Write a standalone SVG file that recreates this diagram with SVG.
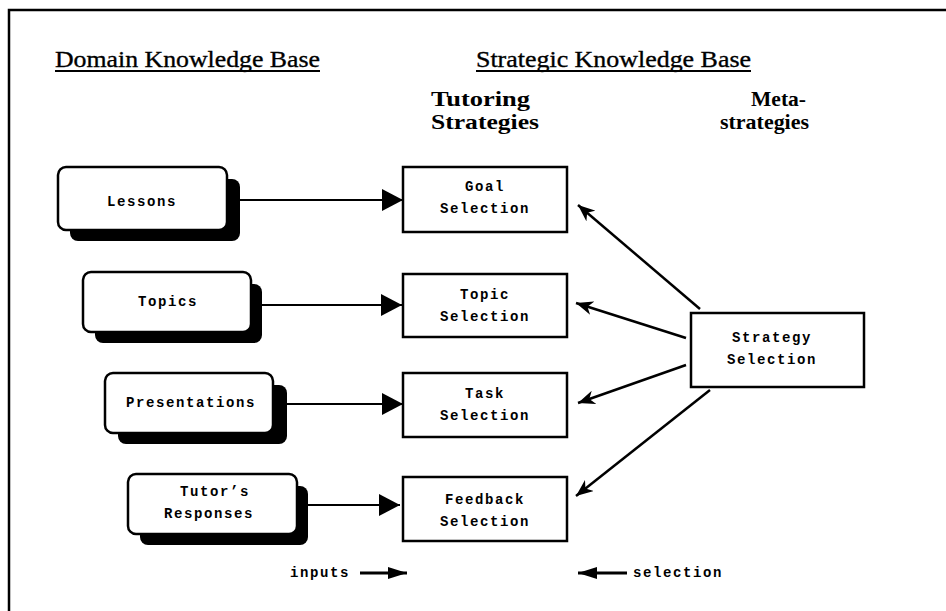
<svg xmlns="http://www.w3.org/2000/svg" width="946" height="611" viewBox="0 0 946 611">
  <style>
    .frame { stroke: #000; stroke-width: 2.5; fill: none; }
    .title { font-family: "Liberation Serif", "Times New Roman", serif; font-size: 24px; fill: #000; stroke: #000; stroke-width: 0.35px; }
    .head { font-family: "Liberation Serif", "Times New Roman", serif; font-size: 22px; font-weight: bold; fill: #000; }
    .rule { stroke: #000; stroke-width: 2; }
    .lbl { font-family: "Liberation Mono", "Courier New", monospace; font-size: 14px; font-weight: bold; letter-spacing: 1.6px; fill: #000; text-anchor: middle; }
    .card { fill: #fff; stroke: #000; stroke-width: 2.5; }
    .shadow { fill: #000; }
    .box { fill: #fff; stroke: #000; stroke-width: 2.5; }
    .in { stroke: #000; stroke-width: 2; fill: none; marker-end: url(#tri); }
    .sel { stroke: #000; stroke-width: 2.5; fill: none; marker-end: url(#barb); }
  </style>
  <defs>
    <marker id="tri" markerUnits="userSpaceOnUse" markerWidth="22" markerHeight="22" refX="21" refY="11" orient="auto">
      <path d="M0,0 L21,11 L0,22 Z" fill="#000"/>
    </marker>
    <marker id="tiny" markerUnits="userSpaceOnUse" markerWidth="20" markerHeight="12" refX="19" refY="6" orient="auto">
      <path d="M0,0 L19,6 L0,12 Z" fill="#000"/>
    </marker>
    <marker id="barb" markerUnits="userSpaceOnUse" markerWidth="18" markerHeight="14" refX="17" refY="7" orient="auto">
      <path d="M17,7 L0,0 L5,7 L0,14 Z" fill="#000"/>
    </marker>
  </defs>

  <!-- page frame (top and left edges) -->
  <path class="frame" d="M946,10 L9,10 L9,611"/>

  <!-- section headings -->
  <g id="headings">
    <text class="title" x="55" y="67" textLength="265" lengthAdjust="spacingAndGlyphs">Domain Knowledge Base</text>
    <line class="rule" x1="55" y1="71" x2="320" y2="71"/>
    <text class="title" x="476" y="67" textLength="275" lengthAdjust="spacingAndGlyphs">Strategic Knowledge Base</text>
    <line class="rule" x1="476" y1="71" x2="751" y2="71"/>
    <text class="head" x="431" y="106" textLength="99" lengthAdjust="spacingAndGlyphs">Tutoring</text>
    <text class="head" x="431" y="129" textLength="108" lengthAdjust="spacingAndGlyphs">Strategies</text>
    <text class="head" x="751" y="106" textLength="55" lengthAdjust="spacingAndGlyphs">Meta-</text>
    <text class="head" x="720" y="129" textLength="89" lengthAdjust="spacingAndGlyphs">strategies</text>
  </g>

  <!-- domain knowledge sources -->
  <g id="lessons">
    <rect class="shadow" x="70" y="179" width="170" height="62" rx="8"/>
    <rect class="card" x="58" y="167" width="169" height="63" rx="8"/>
    <text class="lbl" x="142" y="206">Lessons</text>
  </g>
  <g id="topics">
    <rect class="shadow" x="95" y="284" width="167" height="59" rx="8"/>
    <rect class="card" x="83" y="272" width="168" height="60" rx="8"/>
    <text class="lbl" x="168" y="306">Topics</text>
  </g>
  <g id="presentations">
    <rect class="shadow" x="118" y="385" width="169" height="59" rx="8"/>
    <rect class="card" x="105" y="373" width="168" height="60" rx="8"/>
    <text class="lbl" x="191" y="407">Presentations</text>
  </g>
  <g id="responses">
    <rect class="shadow" x="140" y="486" width="168" height="59" rx="8"/>
    <rect class="card" x="128" y="474" width="169" height="60" rx="8"/>
    <text class="lbl" x="215" y="496">Tutor’s</text>
    <text class="lbl" x="209" y="518">Responses</text>
  </g>

  <!-- tutoring strategies -->
  <g id="goal">
    <rect class="box" x="403" y="167" width="164" height="65"/>
    <text class="lbl" x="485" y="191">Goal</text>
    <text class="lbl" x="485" y="213">Selection</text>
  </g>
  <g id="topic">
    <rect class="box" x="403" y="274" width="164" height="63"/>
    <text class="lbl" x="485" y="299">Topic</text>
    <text class="lbl" x="485" y="321">Selection</text>
  </g>
  <g id="task">
    <rect class="box" x="403" y="373" width="164" height="64"/>
    <text class="lbl" x="485" y="398">Task</text>
    <text class="lbl" x="485" y="420">Selection</text>
  </g>
  <g id="feedback">
    <rect class="box" x="403" y="477" width="164" height="64"/>
    <text class="lbl" x="485" y="504">Feedback</text>
    <text class="lbl" x="485" y="526">Selection</text>
  </g>

  <!-- meta-strategy -->
  <g id="strategy">
    <rect class="box" x="691" y="313" width="173" height="74"/>
    <text class="lbl" x="772" y="342">Strategy</text>
    <text class="lbl" x="772" y="364">Selection</text>
  </g>

  <!-- connectors -->
  <g id="connectors">
    <line class="in" x1="240" y1="200" x2="403" y2="200"/>
    <line class="in" x1="262" y1="305" x2="402" y2="305"/>
    <line class="in" x1="287" y1="404" x2="403" y2="404"/>
    <line class="in" x1="308" y1="505" x2="400" y2="505"/>

    <line class="sel" x1="700" y1="309" x2="578" y2="205"/>
    <line class="sel" x1="686" y1="338" x2="576" y2="303"/>
    <line class="sel" x1="686" y1="365" x2="578" y2="403"/>
    <line class="sel" x1="710" y1="390" x2="576" y2="496"/>
  </g>

  <!-- legend -->
  <g id="legend">
    <text class="lbl" x="320" y="577">inputs</text>
    <line x1="360" y1="573" x2="407" y2="573" stroke="#000" stroke-width="3" marker-end="url(#tiny)"/>
    <line x1="627" y1="573" x2="578" y2="573" stroke="#000" stroke-width="3" marker-end="url(#tiny)"/>
    <text class="lbl" x="678" y="577">selection</text>
  </g>
</svg>
